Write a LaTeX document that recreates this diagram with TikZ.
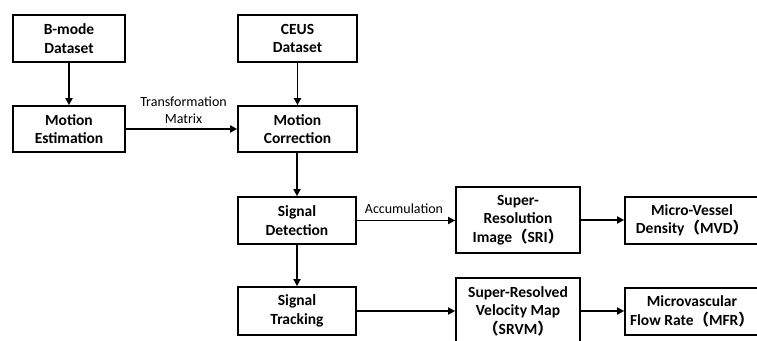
\documentclass[tikz,border=0pt]{standalone}
\usepackage{fontspec}
\setmainfont{Carlito}
\newfontfamily\cjk{Noto Sans CJK SC}
\usetikzlibrary{arrows.meta}
\newcommand{\lp}{{\cjk\bfseries （}}
\newcommand{\rp}{{\cjk\bfseries ）}}
\begin{document}
\begin{tikzpicture}[x=1pt,y=-1pt,
  box/.style={draw, line width=1.7pt, align=center, inner sep=0pt,
    font=\fontsize{15.5}{18.5}\selectfont\bfseries},
  conn/.style={line width=1.7pt, -{Triangle[length=7pt,width=7pt]}},
  lbl/.style={align=center, inner sep=2pt, font=\fontsize{14}{17}\selectfont}]
\clip (0,0) rectangle (757,340);
\fill[white] (0,0) rectangle (757,340);
\node[box, minimum width=112pt, minimum height=47pt] (bmode) at (69,38.5) {B-mode\\Dataset};
\node[box, minimum width=119pt, minimum height=47pt] (ceus) at (297.5,38.5) {CEUS\\Dataset};
\node[box, minimum width=112pt, minimum height=46pt] (mest) at (69,129) {Motion\\Estimation};
\node[box, minimum width=119pt, minimum height=46pt] (mcor) at (297.5,129) {Motion\\Correction};
\node[box, minimum width=118pt, minimum height=47pt] (sdet) at (297,220.5) {Signal\\Detection};
\node[box, minimum width=118pt, minimum height=48pt] (strk) at (297,311) {Signal\\Tracking};
\node[box, minimum width=124pt, minimum height=66pt] (sri) at (518,220) {Super-\\Resolution\\Image\lp SRI\rp};
\node[box, minimum width=124pt, minimum height=66pt] (srvm) at (518,311) {Super-Resolved\\Velocity Map\\\lp SRVM\rp};
\node[box, minimum width=134pt, minimum height=47pt] (mvd) at (692,220.5) {Micro-Vessel\\Density\lp MVD\rp};
\node[box, minimum width=134pt, minimum height=47pt] (mfr) at (692,311.5) {Microvascular\\Flow Rate\lp MFR\rp};
\draw[conn] (bmode) -- (mest);
\draw[conn] (ceus) -- (mcor);
\draw[conn] (mest) -- node[lbl, above=3pt, xshift=2pt] (tm) {Transformation\\Matrix} (mcor);
\draw[conn] (mcor.south -| sdet) -- (sdet);
\draw[conn] (sdet.east) -- node[lbl, above=4pt, xshift=-2pt] (acc) {Accumulation} (sdet.east -| sri.west);
\draw[conn] (sdet) -- (strk);
\draw[conn] (strk.east) -- (strk.east -| srvm.west);
\draw[conn] (sri.east) -- (sri.east -| mvd.west);
\draw[conn] (srvm.east) -- (srvm.east -| mfr.west);
\end{tikzpicture}
\end{document}
